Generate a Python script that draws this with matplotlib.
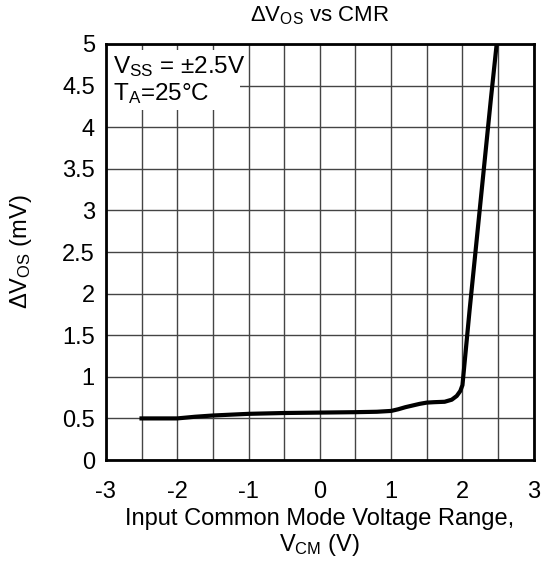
import matplotlib
matplotlib.use("Agg")
import matplotlib.pyplot as plt
from matplotlib.patches import Rectangle
from matplotlib.ticker import FormatStrFormatter, MultipleLocator

plt.rcParams["font.family"] = ["Liberation Sans", "DejaVu Sans"]
plt.rcParams["mathtext.fontset"] = "custom"
plt.rcParams["mathtext.rm"] = "Liberation Sans"
plt.rcParams["mathtext.default"] = "regular"
plt.rcParams["axes.unicode_minus"] = False

# curve
VCM = [-2.5, -2.0, -1.75, -1.5, -1.0, -0.5, 0.0, 0.5, 0.8, 1.0, 1.1, 1.2,
       1.3, 1.4, 1.5, 1.6, 1.75, 1.85, 1.92, 1.97, 2.0, 2.05, 2.1, 2.2,
       2.3, 2.4, 2.48]
DVOS = [0.50, 0.50, 0.52, 0.535, 0.555, 0.565, 0.57, 0.575, 0.58, 0.59,
        0.61, 0.635, 0.655, 0.675, 0.69, 0.695, 0.70, 0.725, 0.77, 0.83,
        0.90, 1.35, 1.8, 2.65, 3.5, 4.35, 5.0]

XLIM = (-3, 3)
YLIM = (0, 5)

fig = plt.figure(figsize=(5.43, 5.61), dpi=100)
ax = fig.add_axes([0.195, 0.18, 0.788, 0.7416])

ax.set_xlim(*XLIM)
ax.set_ylim(*YLIM)
ax.xaxis.set_major_locator(MultipleLocator(1))
ax.xaxis.set_minor_locator(MultipleLocator(0.5))
ax.yaxis.set_major_locator(MultipleLocator(0.5))
ax.yaxis.set_major_formatter(FormatStrFormatter("%g"))

ax.grid(True, which="both", color="#444444", linewidth=1.0)
ax.set_axisbelow(True)
ax.tick_params(which="both", length=0, labelsize=17)
ax.tick_params(axis="x", pad=15)
ax.tick_params(axis="y", pad=8)
for s in ax.spines.values():
    s.set_linewidth(2)

ax.plot(VCM, DVOS, color="black", linewidth=3, zorder=3,
        solid_joinstyle="round")

# white box behind the conditions text
ax.add_patch(Rectangle((-3, 4.21), 1.88, 0.72, facecolor="white",
                       edgecolor="none", zorder=2))
ax.text(-2.9, 4.73, "V$_{SS}$ = ±2.5V", fontsize=17.5, va="center", zorder=4)
ax.text(-2.9, 4.40, "T$_A$=25°C", fontsize=17.5, va="center", zorder=4)

ax.set_title("ΔV$_{OS}$ vs CMR", fontsize=16, pad=16)
ax.set_ylabel("ΔV$_{OS}$ (mV)", fontsize=17, labelpad=20)
ax.set_xlabel("Input Common Mode Voltage Range,\nV$_{CM}$ (V)", fontsize=17,
              labelpad=4, linespacing=1.1)

fig.savefig("out.png", dpi=100)
